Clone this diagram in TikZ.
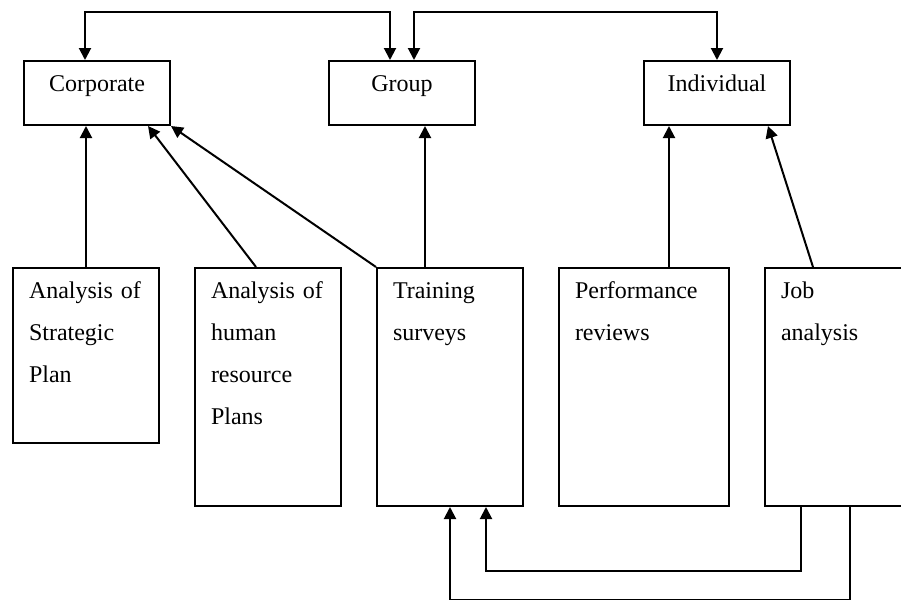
\documentclass[tikz,border=0pt]{standalone}
\usepackage{fontspec}
\setmainfont{Liberation Serif}
\usetikzlibrary{arrows.meta,positioning}

\begin{document}
\begin{tikzpicture}[x=0.5pt,y=-0.5pt,node distance=17pt,line width=1pt,
      font=\fontsize{12}{21}\selectfont,>={Triangle[length=6pt,width=6pt]},
      lvl/.style={draw,anchor=north west,minimum width=73pt,inner sep=0pt,text height=15pt,text depth=17pt},
      src/.style={draw,anchor=north west,inner xsep=8pt,inner ysep=0pt,text width=57pt,align=left,text height=15pt,text depth=104pt}]
      \useasboundingbox (0,0) rectangle (901,600);
      % levels of need
      \node[lvl] (corp) at (23,60) {Corporate};
      \node[lvl] (grp) at (328,60) {Group};
      \node[lvl] (ind) at (643,60) {Individual};
      % sources of information
      \node[src,text depth=72.5pt] (strat) at (12,267) {Analysis of\\Strategic\\Plan};
      \node[src,right=of strat.north east,anchor=north west] (hrp) {Analysis of\\human\\resource\\Plans};
      \node[src,right=of hrp.north east,anchor=north west] (surv) {Training\\surveys};
      \node[src,right=of surv.north east,anchor=north west,text width=69pt] (perf) {Performance\\reviews};
      \node[src,right=of perf.north east,anchor=north west] (job) {Job\\analysis};
      % links between levels
      \draw[<->] ([xshift=-6pt]corp.north) -- ++(0,-48) -| ([xshift=-6pt]grp.north);
      \draw[<->] ([xshift=6pt]grp.north) -- ++(0,-48) -| (ind.north);
      % sources to levels
      \draw[->] (strat.north) -- (strat.north |- corp.south);
      \draw[->] ([xshift=-6pt]hrp.north) -- ([xshift=25.5pt]corp.south);
      \draw[->] (surv.north west) -- (corp.south east);
      \draw[->] ([xshift=-12.5pt]surv.north) -- ([xshift=-12.5pt]surv.north |- grp.south);
      \draw[->] ([xshift=12.5pt]perf.north) -- ([xshift=12.5pt]perf.north |- ind.south);
      \draw[->] ([xshift=24.5pt]job.north west) -- ([xshift=25.5pt]ind.south);
      % job analysis feeds the surveys
      \draw[->] ([xshift=18.5pt]job.south west) -- ++(0,64) -| ([xshift=55pt]surv.south west);
      \draw[->] ([xshift=43pt]job.south west) -- ++(0,93) -| ([xshift=37pt]surv.south west);
\end{tikzpicture}
\end{document}
